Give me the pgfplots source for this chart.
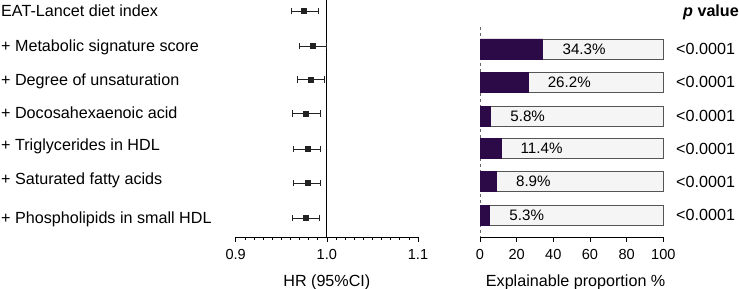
\documentclass[border=0pt]{standalone}
\usepackage{fontspec}
\setmainfont{Liberation Sans}
\usepackage{pgfplots}
\usepackage{pgfplotstable}
\pgfplotsset{compat=1.18}
\definecolor{darkpurple}{HTML}{2B0A47}
\definecolor{lightbar}{HTML}{F5F5F5}
\definecolor{barline}{HTML}{555555}
\definecolor{cicol}{HTML}{222222}
\newcommand{\chartfont}{\fontsize{16.2}{19}\selectfont}
\newcommand{\tickfont}{\fontsize{14.6}{17}\selectfont}
\newcommand{\pctfont}{\fontsize{15.2}{18}\selectfont}

% HR with 95% CI (y = row position)
\pgfplotstableread{
y     hr     em     ep
11    0.975  0.014  0.016
46    0.985  0.015  0.014
79.5  0.982  0.014  0.015
113.5 0.977  0.015  0.016
149   0.979  0.016  0.014
183   0.979  0.016  0.014
218   0.977  0.015  0.015
}\hrtable

% explainable proportion (%)
\pgfplotstableread{
y     prop  full
49    34.3  100
82    26.2  100
116   5.8   100
148.5 11.4  100
181.5 8.9   100
215   5.3   100
}\proptable

\begin{document}
\chartfont
\begin{tikzpicture}
\useasboundingbox (0,-52bp) rectangle (739bp,237bp);
\pgfplotsset{every axis/.append style={font=\chartfont},
  every tick label/.append style={font=\tickfont, yshift=-1.5bp},
  every axis label/.append style={font=\chartfont},
  every axis x label/.append style={yshift=-4bp}}

% ---------------- left: forest plot ----------------
\begin{axis}[at={(235.7bp,0)}, anchor=south west, scale only axis,
  width=182.3bp, height=237bp,
  xmin=0.9, xmax=1.1, ymin=0, ymax=237, y dir=reverse,
  axis y line=none, axis x line*=bottom,
  xtick={0.9,1.0,1.1}, minor x tick num=9, tick align=outside,
  major tick length=5bp, minor tick length=2.5bp,
  xticklabel style={/pgf/number format/.cd, fixed, fixed zerofill, precision=1, assume math mode=true},
  xlabel={HR (95\%CI)}, clip=false,
  axis line style={black, line width=0.8pt},
  every tick/.style={black, line width=0.6pt}]
\addplot[black, line width=0.8pt] coordinates {(1,0) (1,237)};
\addplot[cicol, only marks, mark=square*, mark size=2.5pt,
  error bars/.cd, x dir=both, x explicit,
  error bar style={line width=0.7pt, cicol},
  error mark options={rotate=90, mark size=3.5pt, line width=0.7pt, cicol}]
  table[x=hr, y=y, x error plus=ep, x error minus=em] {\hrtable};
\end{axis}

% ---------------- right: bars ----------------
\begin{axis}[at={(480bp,0)}, anchor=south west, scale only axis,
  width=183.3bp, height=237bp,
  xmin=0, xmax=100, ymin=0, ymax=237, y dir=reverse,
  axis y line=none, axis x line*=bottom,
  xtick={0,20,...,100}, tick align=outside, major tick length=5bp,
  xticklabel style={/pgf/number format/assume math mode=true},
  xlabel={Explainable proportion \%},
  xlabel style={xshift=4bp}, clip=false,
  axis line style={black, line width=0.8pt},
  every tick/.style={black, line width=0.6pt},
  bar width=20bp]
\addplot[black!60, dashed, line width=0.8pt] coordinates {(0,27) (0,237)};
\addplot[xbar, bar shift=0pt, fill=lightbar, draw=barline, line width=0.8pt]
  table[x=full, y=y] {\proptable};
\addplot[xbar, bar shift=0pt, fill=darkpurple, draw=darkpurple, line width=0.8pt,
  point meta=x,
  nodes near coords={\pgfmathprintnumber[fixed, fixed zerofill, precision=1, assume math mode=true]{\pgfplotspointmeta}\%},
  every node near coord/.append style={anchor=west, xshift=14bp, black, font=\pctfont}]
  table[x=prop, y=y] {\proptable};
\end{axis}

% ---------------- row labels ----------------
\begin{scope}[every node/.style={anchor=base west, inner sep=0pt}]
\node at (1bp,220.4bp) {EAT-Lancet diet index};
\node at (1bp,185.9bp) {+ Metabolic signature score};
\node at (1bp,151.9bp) {+ Degree of unsaturation};
\node at (1bp,118.6bp) {+ Docosahexaenoic acid};
\node at (1bp,86.4bp) {+ Triglycerides in HDL};
\node at (1bp,52.6bp) {+ Saturated fatty acids};
\node at (1bp,13.6bp) {+ Phospholipids in small HDL};
\node at (683bp,220.3bp) {\textbf{\textit{p} value}};
\node at (676bp,182.4bp) {<0.0001};
\node at (676bp,149.4bp) {<0.0001};
\node at (676bp,115.4bp) {<0.0001};
\node at (676bp,82.9bp) {<0.0001};
\node at (676bp,49.9bp) {<0.0001};
\node at (676bp,16.4bp) {<0.0001};
\end{scope}
\end{tikzpicture}
\end{document}
